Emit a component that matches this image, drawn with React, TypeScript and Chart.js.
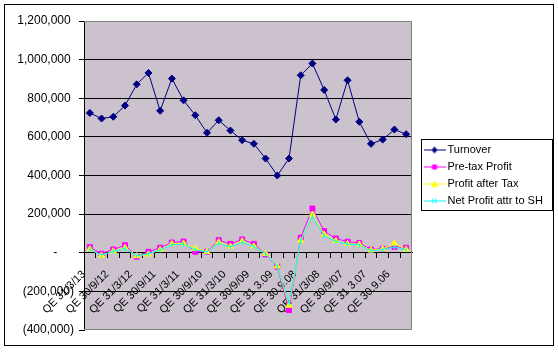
import React, { useEffect, useRef } from 'react';
import { Chart, registerables } from 'chart.js';

Chart.register(...registerables);

const categories = [
  'QE 31/3/13', 'QE 31/12/12', 'QE 30/9/12', 'QE 30/6/12', 'QE 31/3/12', 'QE 31/12/11', 'QE 30/9/11',
  'QE 30/6/11', 'QE 31/3/11', 'QE 31/12/10', 'QE 30/9/10', 'QE 30/6/10', 'QE 31/3/10', 'QE 31/12/09',
  'QE 30/9/09', 'QE 30/6/09', 'QE 31 3.09', 'QE 31.12.08', 'QE 30.9.08', 'QE 30/6/08', 'QE 31/3/08',
  'QE 31/12/07', 'QE 30/9/07', 'QE 30/6/07', 'QE 31 3.07', 'QE 31.12.06', 'QE 30.9.06', 'QE 30.6.06',
];

const turnover = [
  724000, 695000, 704000, 762000, 872000, 931000, 735000, 902000, 789000, 712000, 621000, 686000, 633000, 583000,
  564000, 488000, 400000, 488000, 919000, 980000, 843000, 690000, 893000, 678000, 564000, 586000, 638000, 614000,
];

const preTaxProfit = [
  29000, -5000, 17000, 39000, -21000, 5000, 26000, 53000, 58000, 5000, 5000, 65000, 46000, 69000,
  46000, -9000, -72000, -297000, 78000, 229000, 112000, 74000, 57000, 50000, 17000, 21000, 31000, 26000,
];

const profitAfterTax = [
  19000, -14000, 8000, 26000, -17000, -8000, 16000, 46000, 48000, 22000, 5000, 55000, 33000, 60000,
  34000, -5000, -70000, -273000, 64000, 198000, 95000, 62000, 46000, 43000, 13000, 19000, 48000, 17000,
];

const netProfitAttrToSH = [
  17000, -12000, 7000, 22000, -15000, -6000, 14000, 42000, 44000, 16000, 4000, 50000, 30000, 55000,
  32000, -6000, -70000, -262000, 62000, 190000, 88000, 60000, 44000, 40000, 10000, 16000, 30000, 16000,
];

const seriesNames = ['Turnover', 'Pre-tax Profit', 'Profit after Tax', 'Net Profit attr to SH'];
const seriesColors = ['#000080', '#FF00FF', '#FFFF00', '#00FFFF'];

const Y_MIN = -400000;
const Y_MAX = 1200000;
const Y_STEP = 200000;

function withCommas(n: number): string {
  return String(Math.round(n)).replace(/\B(?=(\d{3})+(?!\d))/g, ',');
}

function formatAccounting(v: number): string {
  if (v === 0) return '-     ';
  if (v < 0) return '(' + withCommas(-v) + ')';
  return withCommas(v) + ' ';
}

function makeLegendImage(color: string, kind: string): HTMLCanvasElement {
  const c = document.createElement('canvas');
  c.width = 22;
  c.height = 9;
  const g = c.getContext('2d') as CanvasRenderingContext2D;
  g.strokeStyle = color;
  g.fillStyle = color;
  g.lineWidth = 1;
  g.beginPath();
  g.moveTo(0, 4.5);
  g.lineTo(22, 4.5);
  g.stroke();
  const cx = 11;
  const cy = 4.5;
  g.beginPath();
  if (kind === 'diamond') {
    g.moveTo(cx, cy - 3.5);
    g.lineTo(cx + 3, cy);
    g.lineTo(cx, cy + 3.5);
    g.lineTo(cx - 3, cy);
    g.closePath();
    g.fill();
  } else if (kind === 'square') {
    g.fillRect(cx - 2.5, cy - 2.5, 5, 5);
  } else if (kind === 'triangle') {
    g.moveTo(cx, cy - 3.5);
    g.lineTo(cx + 3.5, cy + 3);
    g.lineTo(cx - 3.5, cy + 3);
    g.closePath();
    g.fill();
  } else {
    g.moveTo(cx - 1.5, cy - 2.5);
    g.lineTo(cx - 1.5, cy + 2.5);
    g.moveTo(cx + 1.5, cy - 2.5);
    g.lineTo(cx + 1.5, cy + 2.5);
    g.stroke();
  }
  return c;
}

const framePlugin = {
  id: 'framePlugin',
  beforeDraw(chart: any) {
    const { ctx, chartArea: a } = chart;
    ctx.save();
    ctx.fillStyle = '#CBC2CE';
    ctx.fillRect(a.left, a.top, a.right - a.left, a.bottom - a.top);
    ctx.restore();
  },
  afterLayout(chart: any) {
    const lg = chart.legend;
    if (lg) {
      lg.left += 9;
      lg.right += 9;
    }
  },
  afterDraw(chart: any) {
    const { ctx, chartArea: a } = chart;
    ctx.save();
    ctx.lineWidth = 1;
    ctx.strokeStyle = '#808080';
    ctx.beginPath();
    ctx.moveTo(a.left, a.top + 0.5);
    ctx.lineTo(a.right - 0.5, a.top + 0.5);
    ctx.lineTo(a.right - 0.5, a.bottom - 0.5);
    ctx.lineTo(a.left, a.bottom - 0.5);
    ctx.stroke();

    const hb = chart.legend && chart.legend.legendHitBoxes;
    if (hb && hb.length) {
      const first = hb[0];
      const last = hb[hb.length - 1];
      const x0 = Math.floor(first.left) - 6 + 0.5;
      const y0 = Math.floor(first.top) - 5 + 0.5;
      const y1 = Math.floor(last.top + last.height) + 4 + 0.5;
      ctx.strokeStyle = '#000';
      ctx.strokeRect(x0, y0, 131, y1 - y0);
    }

    ctx.strokeStyle = '#000';
    ctx.strokeRect(4.5, 4.5, 549, 341);
    ctx.restore();
  },
};

export default function App() {
  const canvasRef = useRef<HTMLCanvasElement | null>(null);

  useEffect(() => {
    const canvas = canvasRef.current;
    if (!canvas) return;
    Chart.defaults.font.family = '"Liberation Sans", Arial, sans-serif';
    Chart.defaults.color = '#000';

    const legendImages = [
      makeLegendImage(seriesColors[0], 'diamond'),
      makeLegendImage(seriesColors[1], 'square'),
      makeLegendImage(seriesColors[2], 'triangle'),
      makeLegendImage(seriesColors[3], 'cross'),
    ];

    const allSeries = [turnover, preTaxProfit, profitAfterTax, netProfitAttrToSH];
    const pointStyles = ['rectRot', 'rect', 'triangle', 'line'];
    const pointRadii = [3.5, 3.5, 3.5, 2.5];

    const chart = new Chart(canvas, {
      type: 'line',
      data: {
        labels: categories,
        datasets: allSeries.map((data, i) => ({
          label: seriesNames[i],
          data,
          borderColor: seriesColors[i],
          backgroundColor: seriesColors[i],
          borderWidth: 1,
          pointStyle: pointStyles[i] as any,
          pointRotation: i === 3 ? 90 : 0,
          pointRadius: pointRadii[i],
          pointBorderWidth: 1,
          pointBackgroundColor: seriesColors[i],
          pointBorderColor: seriesColors[i],
          tension: 0,
          order: 3 - i,
        })),
      },
      options: {
        responsive: false,
        animation: false,
        devicePixelRatio: 1,
        layout: { padding: { left: 0, top: 21, right: 15, bottom: 23 } },
        plugins: {
          tooltip: { enabled: false },
          title: { display: false },
          legend: {
            display: true,
            position: 'right',
            align: 'center',
            maxWidth: 131,
            labels: {
              usePointStyle: true,
              pointStyleWidth: 15,
              padding: 6,
              color: '#000',
              font: { size: 11, family: '"Liberation Sans", Arial, sans-serif' },
              generateLabels: () =>
                seriesNames.map((name, i) => ({
                  text: name,
                  fillStyle: seriesColors[i],
                  strokeStyle: seriesColors[i],
                  lineWidth: 0,
                  pointStyle: legendImages[i],
                  hidden: false,
                  datasetIndex: i,
                  fontColor: '#000',
                })) as any,
            },
          },
        },
        scales: {
          x: {
            type: 'category',
            position: { y: 0 } as any,
            offset: true,
            afterFit: (s: any) => {
              s.height = 0;
            },
            grid: {
              drawOnChartArea: false,
              drawTicks: true,
              offset: true,
              tickLength: 5,
              tickColor: '#000',
            },
            border: { display: true, color: '#000', width: 1 },
            ticks: {
              autoSkip: false,
              minRotation: 45,
              maxRotation: 45,
              padding: 10,
              labelOffset: -6,
              color: '#000',
              font: { size: 11, family: '"Liberation Sans", Arial, sans-serif' },
              callback: (_v: any, idx: number) => (idx % 2 === 0 ? categories[idx] : ''),
            },
          },
          y: {
            type: 'linear',
            min: Y_MIN,
            max: Y_MAX,
            afterFit: (s: any) => {
              s.width = 84;
            },
            grid: {
              color: (c: any) =>
                c.tick && (c.tick.value === Y_MAX || c.tick.value === Y_MIN) ? 'rgba(0,0,0,0)' : '#000',
              tickColor: '#000',
              tickLength: 5,
              lineWidth: 1,
            },
            border: { display: true, color: '#000', width: 1 },
            ticks: {
              stepSize: Y_STEP,
              padding: 5,
              color: '#000',
              font: { size: 12, family: '"Liberation Sans", Arial, sans-serif' },
              callback: (v: any) => formatAccounting(Number(v)),
            },
          },
        },
      },
      plugins: [framePlugin],
    });

    return () => {
      chart.destroy();
    };
  }, []);

  return (
    <div style={{ position: 'absolute', left: 0, top: 0, width: 558, height: 353, background: '#fff' }}>
      <canvas ref={canvasRef} width={558} height={353} style={{ display: 'block' }} />
    </div>
  );
}
